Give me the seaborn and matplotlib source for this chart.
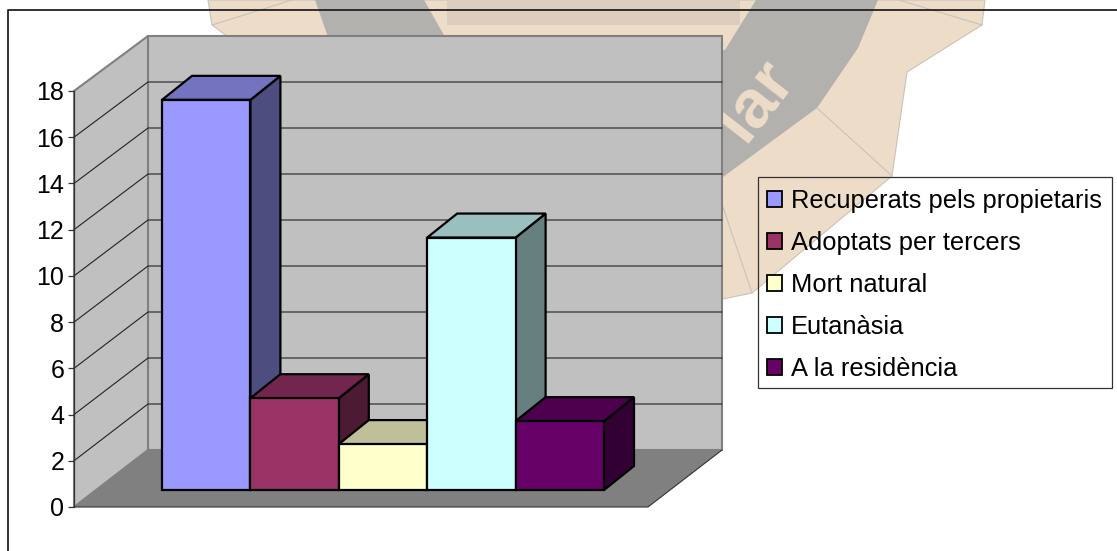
import matplotlib
matplotlib.use('Agg')
import matplotlib.pyplot as plt
import pandas as pd
import seaborn as sns
from matplotlib.patches import Polygon, Patch, Rectangle
from matplotlib.colors import to_rgb

categories = ['Recuperats pels propietaris', 'Adoptats per tercers', 'Mort natural', 'Eutanàsia', 'A la residència']
values = [17, 4, 2, 11, 3]
colors = ['#9999FF', '#993366', '#FFFFCC', '#CCFFFF', '#660066']
y_ticks = [0, 2, 4, 6, 8, 10, 12, 14, 16, 18]

W, H = 1117, 551
sns.set_theme(style='white')
plt.rcParams['font.family'] = ['Liberation Sans', 'DejaVu Sans']
plt.rcParams['text.color'] = 'black'
FS_TICK = 18
FS_LEG = 18.4

def darker(c, f):
    return tuple(v * f for v in to_rgb(c))

fig = plt.figure(figsize=(W / 100, H / 100), dpi=100, facecolor='white')

# fons en pixels: marca d'aigua, marc, parets i terra
bg = fig.add_axes([0, 0, 1, 1])
bg.set_xlim(0, W)
bg.set_ylim(H, 0)
bg.axis('off')

beige = '#EDDCC8'
bg.add_patch(Polygon([(208, 0), (212, 25), (228, 37), (228, 299), (723, 299), (752, 293), (892, 176),
                      (907, 72), (982, 25), (985, 0)], fc=beige, ec='#C9C3BA', lw=0.8, zorder=1))
bg.add_patch(Polygon([(447, 0), (740, 0), (740, 25), (447, 25)], fc='#DDCDBF', ec='none', zorder=1.1))
bg.add_patch(Polygon([(315, 0), (424, 0), (445, 37), (328, 37)], fc='#B3B1AE', ec='none', zorder=1.2))
bg.add_patch(Polygon([(756, 0), (878, 0), (858, 48), (817, 108), (723, 177), (700, 177), (700, 50), (725, 50)],
                     fc='#B3B1AE', ec='none', zorder=1.2))
for a, b in [((212, 25), (292, 0)), ((899, 0), (982, 25)), ((817, 108), (892, 176)), ((723, 207), (752, 293))]:
    bg.plot(*zip(a, b), color='#C9C3BA', lw=0.8, zorder=1.3)
bg.text(755, 100, 'lar', color=beige, fontsize=49, fontweight='bold', rotation=52, ha='center', va='center',
        rotation_mode='anchor', zorder=1.4)

bg.plot([8, 8, W], [H, 10, 10], color='#222222', lw=1.3, zorder=2)

# parets i terra (3D fals)
front_x, back_x, right_back = 74, 148, 722
front_y0, back_y0 = 507, 450
scale_front, scale_back = 416 / 18, 414 / 18
top_front = front_y0 - max(y_ticks) * scale_front
top_back = back_y0 - max(y_ticks) * scale_back
bg.add_patch(Polygon([(back_x, top_back), (right_back, top_back), (right_back, back_y0), (back_x, back_y0)],
                     fc='#C0C0C0', ec='#808080', lw=1.5, zorder=3))
bg.add_patch(Polygon([(front_x, top_front), (back_x, top_back), (back_x, back_y0), (front_x, front_y0)],
                     fc='#C0C0C0', ec='#808080', lw=1.5, zorder=3))
bg.add_patch(Polygon([(front_x, front_y0), (back_x, back_y0), (right_back, back_y0), (648, front_y0)],
                     fc='#808080', ec='none', zorder=3.1))
bg.plot([front_x, 648, right_back], [front_y0, front_y0, back_y0], color='#333333', lw=0.8, zorder=3.2)
for v in y_ticks[1:-1]:
    yf = front_y0 - v * scale_front
    yb = back_y0 - v * scale_back
    bg.plot([front_x, back_x, right_back], [yf, yb, yb], color='#222222', lw=0.8, zorder=3.3)

# barres
bar_left, bar_right = 162, 604
bar_base = 490
unit = 22.95
step = (bar_right - bar_left) / len(values)
ax = fig.add_axes([0, 0, 1, 1], facecolor='none')
df = pd.DataFrame({'cat': categories, 'val': values})
sns.barplot(data=df, x='cat', y='val', hue='cat', hue_order=categories, palette=colors, width=1,
            edgecolor='black', linewidth=1.6, saturation=1, legend=False, ax=ax)
ax.set_xlim(-0.5 - bar_left / step, -0.5 + (W - bar_left) / step)
ax.set_ylim(-(H - bar_base) / unit, bar_base / unit)
ax.axis('off')

dx = 30 / step
dy = 24 / unit
bars = [p for p in ax.patches if p.get_height() > 0]
for i, (p, c) in enumerate(zip(bars, colors)):
    x0, x1, h = p.get_x(), p.get_x() + p.get_width(), p.get_height()
    p.set_zorder(5.5 + i)
    ax.add_patch(Polygon([(x1, 0), (x1 + dx, dy), (x1 + dx, h + dy), (x1, h)], fc=darker(c, 0.5),
                         ec='black', lw=1.6, zorder=5 + i, joinstyle='miter'))
    ax.add_patch(Polygon([(x0, h), (x0 + dx, h + dy), (x1 + dx, h + dy), (x1, h)], fc=darker(c, 0.75),
                         ec='black', lw=1.6, zorder=5 + i, joinstyle='miter'))

# llegenda transparent: el marc va a part per poder centrar les files com a l'original
leg_x, leg_top = 758, 177
bg.add_patch(Rectangle((leg_x, leg_top), 354, 211, fc='none', ec='#333333', lw=0.9, zorder=4))
handles = [Patch(facecolor=c, edgecolor='black', linewidth=1.3, label=n) for c, n in zip(colors, categories)]
leg = ax.legend(handles=handles, loc='upper left', bbox_to_anchor=(leg_x / W, 1 - (leg_top + 3) / H),
                bbox_transform=fig.transFigure, frameon=False, fontsize=FS_LEG, labelcolor='black',
                handlelength=0.58, handleheight=0.58, handletextpad=0.36, labelspacing=0.70,
                borderpad=0.36, borderaxespad=0)
leg.set_zorder(20)

# eix de valors amb marques reals
ax_y = fig.add_axes([front_x / W, 1 - front_y0 / H, 0.001, (front_y0 - top_front) / H], facecolor='none')
ax_y.set_ylim(0, max(y_ticks))
ax_y.set_yticks(y_ticks)
ax_y.set_xticks([])
ax_y.tick_params(axis='y', left=True, length=4.5, width=0.9, color='#333333', labelsize=FS_TICK, labelcolor='black', pad=2.5)
for s in ['top', 'right', 'bottom']:
    ax_y.spines[s].set_visible(False)
ax_y.spines['left'].set_color('#333333')
ax_y.spines['left'].set_linewidth(0.9)

fig.savefig('out.png', dpi=100)
